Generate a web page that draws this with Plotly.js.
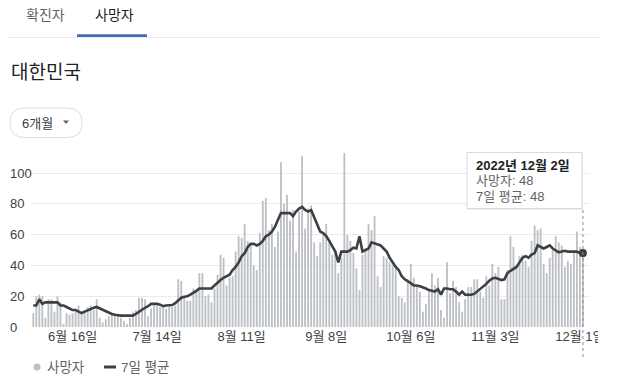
<!DOCTYPE html>
<html>
<head>
<meta charset="utf-8">
<script src="https://cdn.plot.ly/plotly-3.0.1.min.js"></script>
<style>
  html, body { margin: 0; padding: 0; background: #ffffff; }
  #chart { width: 619px; height: 381px; }
</style>
</head>
<body>
<div id="chart"></div>
<script>
// ---------- data ----------
const START_DATE = '2022-06-03';           // first day shown (6 months up to 2022-12-02)
const deaths = [
  9,20,21,20,6,18,18,10,20,16,
  2,9,8,9,10,14,9,11,13,14,
  11,18,6,3,5,7,8,8,8,6,
  4,2,6,10,11,19,19,18,7,12,
  14,14,13,13,12,13,13,14,31,30,
  20,17,17,25,24,35,35,20,21,16,
  25,34,47,45,27,32,33,49,59,58,
  67,56,53,40,37,61,82,84,63,67,
  52,62,107,80,86,69,76,49,75,111,
  64,77,79,55,46,55,61,67,55,47,
  49,35,45,113,60,56,48,38,24,47,
  51,67,63,72,33,26,46,45,42,40,
  38,20,19,16,31,41,32,27,23,10,
  15,24,35,27,32,11,6,42,22,30,
  26,16,10,18,26,26,31,31,23,19,
  33,27,41,35,39,18,18,37,59,52,
  39,46,47,43,39,56,66,63,64,41,
  35,45,50,59,55,53,39,43,41,48,
  62,52,48
];
const avg7 = [
  14,14,18,15,16,16,16,16,16,14,
  14,13,12,11,11,10,9,10,11,12,
  12.5,13,12,11,10,9,8.5,8,7.5,7.4,
  7.4,7.4,7.4,7.4,8.5,10,11.5,12.5,13.5,15,
  15,15,14.5,13.5,14,14.3,14.3,15.5,17.5,19,
  19.7,20,21,22,23.5,25,25,25,25,25,
  27,29,30.5,32,33,34,37,39,42,46,
  48,52,54,54,53,54,56,59,60,62,
  65,70,74,74,74,74,72,75,77,78,
  76,75,76,71,66,62,61,59,56,52,
  49,42,49,49,49,50,51.5,51,59,49,
  50,51,55,54.5,54,53,51,49,45,42,
  39,37,33,31,30,28.5,27,27,26.5,26,
  25,24,23.5,23,24.5,21,25,25,24.5,24.5,
  23,21,23,21,21,21,21.5,23,24.5,26.5,
  28,30,31.5,32,31,30.5,31,35,36.5,37.5,
  39,42,45,46,45,47,48,53,52,51,
  52,53,51,50,48.5,49,49.5,49,49,49,
  49,48,48
];
const xTickVals = ['2022-06-16','2022-07-14','2022-08-11','2022-09-08','2022-10-06','2022-11-03','2022-12-01'];
const xTickText = ['6월 16일','7월 14일','8월 11일','9월 8일','10월 6일','11월 3일','12월 1일'];
const yTickVals = [0,20,40,60,80,100];
const tabLabels = ['확진자','사망자'];
const regionName = '대한민국';
const periodLabel = '6개월';
const legendLabels = ['사망자','7일 평균'];
const tooltipDate = '2022년 12월 2일';

// ---------- build dates ----------
const dates = [];
(function () {
  const d0 = new Date(START_DATE + 'T00:00:00Z');
  for (let i = 0; i < deaths.length; i++) {
    const d = new Date(d0.getTime() + i * 86400000);
    dates.push(d.toISOString().slice(0, 10));
  }
})();
const lastDate = dates[dates.length - 1];

// ---------- pixel helpers for page decorations ----------
const M = { l: 31, r: 29, t: 150, b: 54 };
const W = 619, H = 381;
const PW = W - M.l - M.r, PH = H - M.t - M.b;
const PX = px => (px - M.l) / PW;
const PY = py => (H - M.b - py) / PH;

const FONT = "'Liberation Sans', Arial, 'Noto Sans CJK KR', sans-serif";

function rr(x0, y0, x1, y1, r) {
  return `M ${PX(x0 + r)},${PY(y0)} L ${PX(x1 - r)},${PY(y0)} Q ${PX(x1)},${PY(y0)} ${PX(x1)},${PY(y0 + r)} ` +
         `L ${PX(x1)},${PY(y1 - r)} Q ${PX(x1)},${PY(y1)} ${PX(x1 - r)},${PY(y1)} ` +
         `L ${PX(x0 + r)},${PY(y1)} Q ${PX(x0)},${PY(y1)} ${PX(x0)},${PY(y1 - r)} ` +
         `L ${PX(x0)},${PY(y0 + r)} Q ${PX(x0)},${PY(y0)} ${PX(x0 + r)},${PY(y0)} Z`;
}

function txt(px, py, text, size, color, extra) {
  return Object.assign({
    xref: 'paper', yref: 'paper', x: PX(px), y: PY(py),
    xanchor: 'left', yanchor: 'middle', showarrow: false,
    text: text, font: { family: FONT, size: size, color: color }
  }, extra || {});
}

// ---------- traces ----------
const traces = [
  {
    type: 'bar', x: dates, y: deaths,
    width: 0.62 * 86400000,
    marker: { color: '#bdc1c6' },
    hoverinfo: 'skip', name: legendLabels[0]
  },
  {
    type: 'scatter', mode: 'lines', x: dates, y: avg7,
    line: { color: '#3c4043', width: 2.6 },
    hoverinfo: 'skip', name: legendLabels[1]
  },
  {
    type: 'scatter', mode: 'markers',
    x: [lastDate], y: [avg7[avg7.length - 1]],
    marker: { color: '#3c4043', size: 8 },
    hoverinfo: 'skip'
  }
];

// ---------- annotations ----------
const annotations = [
  txt(24, 15, tabLabels[0], 14, '#5f6368'),
  txt(93, 15, tabLabels[1], 14, '#202124'),
  txt(9, 72, regionName, 19, '#202124'),
  txt(20, 123, periodLabel, 13, '#3c4043'),
  txt(474, 165, '<b>' + tooltipDate + '</b>', 13, '#202124'),
  txt(474, 180.5, legendLabels[0] + ': ' + deaths[deaths.length - 1], 13, '#5f6368'),
  txt(474, 196, legendLabels[1] + ': ' + avg7[avg7.length - 1], 13, '#5f6368'),
  txt(45, 367, legendLabels[0], 13.5, '#5f6368'),
  txt(119, 367, legendLabels[1], 13.5, '#5f6368')
];
yTickVals.forEach(v => {
  annotations.push({
    xref: 'paper', yref: 'y', x: PX(8), y: v,
    xanchor: 'left', yanchor: 'middle', showarrow: false,
    text: String(v), font: { family: FONT, size: 13, color: '#3c4043' }
  });
});

// ---------- shapes ----------
const shapes = [
  { type: 'line', xref: 'paper', yref: 'paper', x0: PX(8), x1: PX(600), y0: PY(37.5), y1: PY(37.5),
    line: { color: '#e8eaed', width: 1 } },
  { type: 'rect', xref: 'paper', yref: 'paper', x0: PX(77), x1: PX(147), y0: PY(34.2), y1: PY(37),
    fillcolor: '#3d6fb6', line: { width: 0 } },
  { type: 'path', xref: 'paper', yref: 'paper', path: rr(10, 108, 82, 137.5, 14.5),
    fillcolor: '#ffffff', line: { color: '#dadce0', width: 1 } },
  { type: 'path', xref: 'paper', yref: 'paper',
    path: `M ${PX(63)},${PY(120.5)} L ${PX(69)},${PY(120.5)} L ${PX(66)},${PY(124)} Z`,
    fillcolor: '#5f6368', line: { width: 0 } },
  // tooltip box
  { type: 'rect', xref: 'paper', yref: 'paper', x0: PX(468), x1: PX(583), y0: PY(154), y1: PY(210),
    fillcolor: '#eeeeee', line: { width: 0 }, layer: 'above' },
  { type: 'rect', xref: 'paper', yref: 'paper', x0: PX(467), x1: PX(582), y0: PY(152.5), y1: PY(208.5),
    fillcolor: '#ffffff', line: { color: '#d9d9d9', width: 1 }, layer: 'above' },
  // hover guide line
  { type: 'line', xref: 'x', yref: 'paper', x0: lastDate, x1: lastDate, y0: PY(357), y1: PY(209),
    line: { color: '#8a8a8a', width: 1, dash: 'dot' } },
  // clip the last tick label at the chart edge
  { type: 'rect', xref: 'paper', yref: 'paper', x0: PX(598), x1: PX(619), y0: PY(330), y1: PY(350),
    fillcolor: '#ffffff', line: { width: 0 }, layer: 'above' },
  // legend symbols
  { type: 'circle', xref: 'paper', yref: 'paper', x0: PX(33.5), x1: PX(40.5), y0: PY(363.5), y1: PY(370.5),
    fillcolor: '#bdc1c6', line: { width: 0 } },
  { type: 'line', xref: 'paper', yref: 'paper', x0: PX(104), x1: PX(116), y0: PY(367), y1: PY(367),
    line: { color: '#3c4043', width: 3 } }
];

// ---------- layout ----------
const dayMs = 86400000;
const t0 = new Date(START_DATE + 'T00:00:00Z').getTime();
const fmt = t => new Date(t).toISOString().replace('T', ' ').slice(0, 19);
const layout = {
  width: W, height: H,
  margin: M,
  paper_bgcolor: '#ffffff', plot_bgcolor: '#ffffff',
  showlegend: false,
  hovermode: false,
  font: { family: FONT, color: '#3c4043' },
  xaxis: {
    type: 'date',
    range: [fmt(t0 - 0.76 * dayMs), fmt(t0 + 184.34 * dayMs)],
    tickvals: xTickVals, ticktext: xTickText,
    tickfont: { family: FONT, size: 13, color: '#3c4043' },
    showgrid: false, zeroline: false, showline: false, ticks: ''
  },
  yaxis: {
    range: [0, 115],
    tickvals: yTickVals, showticklabels: false,
    gridcolor: '#ebebeb', gridwidth: 1,
    zeroline: false, showline: false, ticks: ''
  },
  annotations: annotations,
  shapes: shapes
};

Plotly.newPlot('chart', traces, layout, { staticPlot: true, displayModeBar: false });
</script>
</body>
</html>
